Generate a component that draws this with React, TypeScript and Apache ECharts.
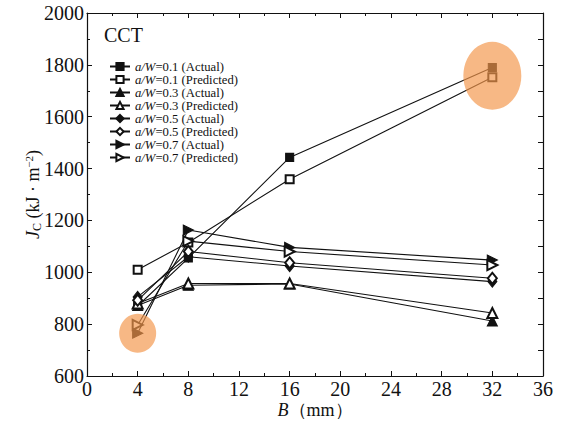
import React, { useEffect, useRef } from "react";
import * as echarts from "echarts";

// Specimen thickness B (mm)
const thickness = [4, 8, 16, 32];

// Fracture toughness J_C (kJ·m^-2) per crack-depth ratio a/W
const aw01Actual = [870, 1055, 1443, 1790];
const aw01Predicted = [1010, 1115, 1359, 1752];
const aw03Actual = [872, 950, 955, 812];
const aw03Predicted = [880, 957, 957, 843];
const aw05Actual = [905, 1060, 1024, 964];
const aw05Predicted = [892, 1080, 1037, 977];
const aw07Actual = [765, 1163, 1096, 1047];
const aw07Predicted = [797, 1120, 1080, 1028];

const seriesNames = [
  "a/W=0.1 (Actual)",
  "a/W=0.1 (Predicted)",
  "a/W=0.3 (Actual)",
  "a/W=0.3 (Predicted)",
  "a/W=0.5 (Actual)",
  "a/W=0.5 (Predicted)",
  "a/W=0.7 (Actual)",
  "a/W=0.7 (Predicted)",
];

// Highlighted points (B, J_C)
const highlightSmall: [number, number] = [4, 765];
const highlightLarge: [number, number] = [32, 1758];

const FONT = "'Liberation Serif', 'Times New Roman', serif";
const INK = "#111";

export default function App() {
  const ref = useRef<HTMLDivElement>(null);

  useEffect(() => {
    if (!ref.current) return;
    const chart = echarts.init(ref.current, undefined, { renderer: "svg" });

    const makeSeries = (
      name: string,
      values: number[],
      symbol: string,
      size: number | number[],
      rotate = 0
    ) => ({
      name,
      type: "line",
      data: thickness.map((b, i) => [b, values[i]]),
      symbol,
      symbolSize: size,
      symbolRotate: rotate,
      showSymbol: true,
      lineStyle: { color: INK, width: 1.1 },
      itemStyle: { color: INK, borderColor: INK, borderWidth: 1.1 },
      z: 3,
    });

    const lineSeries = [
      makeSeries(seriesNames[0], aw01Actual, "rect", 8),
      makeSeries(seriesNames[1], aw01Predicted, "emptyRect", 8),
      makeSeries(seriesNames[2], aw03Actual, "triangle", 10),
      makeSeries(seriesNames[3], aw03Predicted, "emptyTriangle", 10),
      makeSeries(seriesNames[4], aw05Actual, "diamond", [9, 11]),
      makeSeries(seriesNames[5], aw05Predicted, "emptyDiamond", [9, 11]),
      makeSeries(seriesNames[6], aw07Actual, "triangle", 10, -90),
      makeSeries(seriesNames[7], aw07Predicted, "emptyTriangle", 10, -90),
    ];

    const tickStyle = { color: INK, width: 1 };
    const axisLineStyle = { color: INK, width: 1.2 };

    const legendRich = {
      it: { fontFamily: FONT, fontSize: 12.7, fontStyle: "italic", color: INK },
      n: { fontFamily: FONT, fontSize: 12.7, color: INK },
    };

    chart.setOption({
      animation: false,
      backgroundColor: "#fff",
      title: {
        text: "CCT",
        left: 99,
        top: 20,
        textStyle: { fontFamily: FONT, fontSize: 20, fontWeight: "normal", color: INK },
      },
      legend: {
        data: seriesNames,
        orient: "vertical",
        left: 104,
        top: 55,
        itemWidth: 20,
        itemHeight: 9,
        itemGap: 0,
        formatter: (name: string) => {
          const rest = name.replace("a/W", "");
          return `{it|a/W}{n|${rest}}`;
        },
        textStyle: { fontFamily: FONT, fontSize: 12.7, color: INK, rich: legendRich },
      },
      grid: { left: 87, right: 25, top: 13, bottom: 55 },
      xAxis: [
        {
          type: "value",
          min: 0,
          max: 36,
          interval: 4,
          position: "bottom",
          axisLine: { onZero: false, lineStyle: axisLineStyle },
          axisTick: { inside: true, length: 5, lineStyle: tickStyle },
          minorTick: { show: true, splitNumber: 2, length: 3, lineStyle: tickStyle },
          splitLine: { show: false },
          axisLabel: { fontFamily: FONT, fontSize: 20, color: INK, margin: 3 },
          name: "{b|B}{t|（mm）}",
          nameLocation: "middle",
          nameGap: 25,
          nameMoveOverlap: false,
          nameTextStyle: {
            fontFamily: FONT,
            fontSize: 18,
            color: INK,
            rich: {
              b: { fontFamily: FONT, fontSize: 18, fontStyle: "italic", color: INK },
              t: { fontFamily: FONT, fontSize: 18, color: INK },
            },
          },
        },
        {
          type: "value",
          min: 0,
          max: 36,
          interval: 4,
          position: "top",
          axisLine: { onZero: false, lineStyle: axisLineStyle },
          axisTick: { inside: true, length: 5, lineStyle: tickStyle },
          minorTick: { show: true, splitNumber: 2, length: 3, lineStyle: tickStyle },
          splitLine: { show: false },
          axisLabel: { show: false },
        },
      ],
      yAxis: [
        {
          type: "value",
          min: 600,
          max: 2000,
          interval: 200,
          position: "left",
          axisLine: { onZero: false, lineStyle: axisLineStyle },
          axisTick: { inside: true, length: 5, lineStyle: tickStyle },
          minorTick: { show: true, splitNumber: 2, length: 3, lineStyle: tickStyle },
          splitLine: { show: false },
          axisLabel: {
            fontFamily: FONT,
            fontSize: 20,
            color: INK,
            margin: 3,
            formatter: (v: number) => String(v),
          },
          name: "{j|J}{sub|C}{t| (kJ · m}{sup|−2}{t|)}",
          nameLocation: "middle",
          nameRotate: 90,
          nameGap: 44,
          nameMoveOverlap: false,
          nameTextStyle: {
            fontFamily: FONT,
            fontSize: 18,
            color: INK,
            lineHeight: 20,
            rich: {
              j: { fontFamily: FONT, fontSize: 18, fontStyle: "italic", color: INK, lineHeight: 20 },
              sub: { fontFamily: FONT, fontSize: 12, color: INK, verticalAlign: "bottom", lineHeight: 17 },
              t: { fontFamily: FONT, fontSize: 18, color: INK, lineHeight: 20 },
              sup: { fontFamily: FONT, fontSize: 11, color: INK, verticalAlign: "top", lineHeight: 15 },
            },
          },
        },
        {
          type: "value",
          min: 600,
          max: 2000,
          interval: 200,
          position: "right",
          axisLine: { onZero: false, lineStyle: axisLineStyle },
          axisTick: { inside: true, length: 5, lineStyle: tickStyle },
          minorTick: { show: true, splitNumber: 2, length: 5, lineStyle: tickStyle },
          splitLine: { show: false },
          axisLabel: { show: false },
        },
      ],
      series: [
        ...lineSeries,
        {
          name: "highlight",
          type: "scatter",
          xAxisIndex: 0,
          yAxisIndex: 0,
          data: [
            { value: highlightSmall, symbolSize: [37, 39] },
            { value: highlightLarge, symbolSize: [58, 68] },
          ],
          symbol: "circle",
          itemStyle: { color: "rgba(243,150,75,0.85)" },
          silent: true,
          z: 10,
        },
      ],
    });

    return () => chart.dispose();
  }, []);

  return (
    <div
      ref={ref}
      style={{ position: "fixed", left: 0, top: 0, width: 568, height: 431 }}
    />
  );
}
